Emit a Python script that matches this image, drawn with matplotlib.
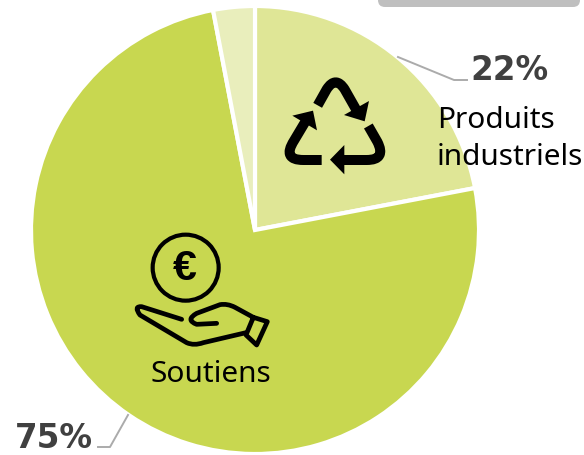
import matplotlib
matplotlib.use("Agg")
import matplotlib.pyplot as plt
from matplotlib.path import Path
from matplotlib.patches import PathPatch, Circle, FancyBboxPatch, Polygon

# share of each source, clockwise from the top
values = [22, 75, 3]
colors = ["#DFE696", "#C8D750", "#E9EEBC"]
names = ["Produits\nindustriels", "Soutiens", ""]

fig = plt.figure(figsize=(5.84, 4.55), dpi=100)
ax = fig.add_axes([0, 0, 1, 1])

# axes run in pixels with y downwards, so the angles below go clockwise on screen
ax.pie(values, colors=colors, center=(255, 230), radius=224, startangle=-90, counterclock=True,
       wedgeprops={"edgecolor": "white", "linewidth": 3})
ax.set_xlim(0, 584)
ax.set_ylim(455, 0)
ax.set_aspect("equal")
ax.axis("off")

# grey bar cut off by the top edge
ax.add_patch(FancyBboxPatch((378, -20), 202, 27, boxstyle="round,pad=0,rounding_size=7",
                            mutation_aspect=1, fc="#BFBFBF", ec="none", zorder=1))

# leader lines
ax.plot([398, 454, 467], [57, 80, 80], color="#ABABAB", lw=1.4, zorder=3)
ax.plot([128, 110, 98], [415, 447, 447], color="#ABABAB", lw=1.4, zorder=3)

pct = {"fontsize": 23.5, "fontweight": "bold", "color": "#404040", "family": "DejaVu Sans", "va": "center"}
ax.text(470, 71, f"{values[0]}%", ha="left", **pct)
ax.text(15, 439, f"{values[1]}%", ha="left", **pct)

lab = {"fontsize": 21.5, "color": "black", "family": "Noto Sans", "zorder": 5}
ax.text(437, 139, names[0], ha="left", va="center", linespacing=1.36, **lab)
ax.text(211, 374, names[1], ha="center", va="center", **lab)


def z1(x, y):
    return 270 + x / 3, y / 3


def z2(x, y):
    return 120 + x / 3, 230 + y / 3


def stroke(points, codes, conv, lw, cap="butt"):
    verts = [conv(*p) for p in points]
    ax.add_patch(PathPatch(Path(verts, codes), fc="none", ec="black", lw=lw,
                           capstyle=cap, joinstyle="round", zorder=4))


def head(points):
    ax.add_patch(Polygon([z1(*p) for p in points], fc="black", ec="none", zorder=4))


M, L, C = Path.MOVETO, Path.LINETO, Path.CURVE3

# recycling icon
stroke([(143, 316), (170, 268), (197, 226), (224, 268), (262, 335)], [M, L, C, C, L], z1, 7.2)
head([(297, 303), (222, 345), (284, 364)])
stroke([(295, 378), (322, 425), (350, 480), (290, 480), (215, 480)], [M, L, C, C, L], z1, 7.2)
head([(223, 435), (180, 479), (223, 523)])
stroke([(155, 480), (100, 480), (35, 480), (72, 422), (115, 350)], [M, L, C, C, L], z1, 7.2)
head([(67, 347), (129, 332), (141, 391)])

# coin
cx, cy = z2(197, 113)
ax.add_patch(Circle((cx, cy), 33, fc="none", ec="black", lw=3, zorder=4))
ax.text(cx - 0.5, cy + 1, "€", fontsize=31, fontweight="bold", family="Liberation Sans",
        ha="center", va="center", color="black", zorder=4)

# hand
stroke([(185, 268), (65, 230), (40, 228), (60, 255), (200, 338), (222, 348), (250, 338), (378, 308)],
       [M, L, C, C, L, C, C, L], z2, 3.4, "round")
stroke([(290, 280), (230, 283), (195, 270), (230, 250), (300, 224), (322, 220), (345, 232), (400, 262),
        (442, 275), (410, 345), (378, 315), (400, 262)],
       [M, L, C, C, L, C, C, L, L, L, L, L], z2, 3.4, "round")

plt.savefig("out.png", dpi=100)
